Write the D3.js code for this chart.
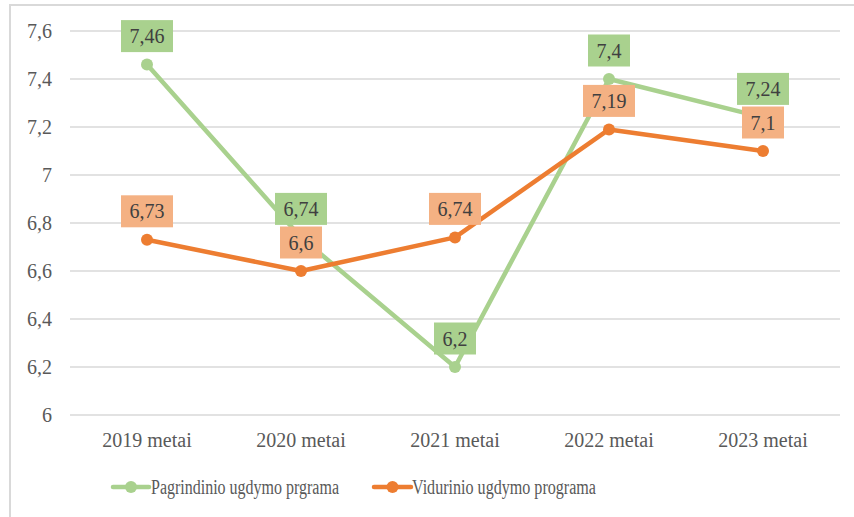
<!DOCTYPE html>
<html>
<head>
<meta charset="utf-8">
<script src="https://cdn.jsdelivr.net/npm/d3@7"></script>
<style>
  body { margin: 0; background: #fff; }
</style>
</head>
<body>
<svg id="chart" width="854" height="517" font-family="Liberation Serif"></svg>
<script>
// Data
var years = ["2019 metai", "2020 metai", "2021 metai", "2022 metai", "2023 metai"];
var pagrindinio = [7.46, 6.74, 6.2, 7.4, 7.24];
var vidurinio = [6.73, 6.6, 6.74, 7.19, 7.1];
var yTicks = [6, 6.2, 6.4, 6.6, 6.8, 7, 7.2, 7.4, 7.6];
var seriesNames = ["Pagrindinio ugdymo prgrama", "Vidurinio ugdymo programa"];

var svg = d3.select("#chart");
// outer chart border
svg.append("rect").attr("x", 10).attr("y", 5).attr("width", 900).attr("height", 600)
    .attr("fill", "none").attr("stroke", "#d9d9d9").attr("stroke-width", 2);

var x = d3.scalePoint().domain(years).range([147, 763]);
var y = d3.scaleLinear().domain([6, 7.6]).range([415, 31]);
var fmt = function(v) { return String(v).replace(".", ","); };

// gridlines
svg.append("g").selectAll("line").data(yTicks).enter().append("line")
    .attr("x1", 70).attr("x2", 840)
    .attr("y1", function(d) { return y(d); }).attr("y2", function(d) { return y(d); })
    .attr("stroke", "#d9d9d9").attr("stroke-width", 1.5);

// y axis labels
svg.append("g").selectAll("text").data(yTicks).enter().append("text")
    .attr("x", 52).attr("y", function(d) { return y(d); })
    .attr("dy", "0.35em").attr("text-anchor", "end")
    .attr("font-family", "Liberation Serif")
    .attr("font-size", 20).attr("fill", "#595959")
    .text(fmt);

// x axis labels
svg.append("g").selectAll("text").data(years).enter().append("text")
    .attr("x", function(d) { return x(d); }).attr("y", 447)
    .attr("text-anchor", "middle").attr("font-family", "Liberation Serif")
    .attr("font-size", 20).attr("fill", "#595959")
    .text(function(d) { return d; });

var series = [
    { values: pagrindinio, color: "#a9d18e", box: "#a9d18e" },
    { values: vidurinio, color: "#ed7d31", box: "#f4b183" }
];

var line = d3.line()
    .x(function(d, i) { return x(years[i]); })
    .y(function(d) { return y(d); });

series.forEach(function(s) {
    svg.append("path").datum(s.values).attr("d", line)
        .attr("fill", "none").attr("stroke", s.color).attr("stroke-width", 4.5)
        .attr("stroke-linejoin", "round");
    svg.append("g").selectAll("circle").data(s.values).enter().append("circle")
        .attr("cx", function(d, i) { return x(years[i]); })
        .attr("cy", function(d) { return y(d); })
        .attr("r", 6).attr("fill", s.color);
});

// data labels (boxes above the points)
series.forEach(function(s) {
    var g = svg.append("g");
    s.values.forEach(function(v, i) {
        var cx = x(years[i]), cy = y(v) - 28.5;
        var t = g.append("text").attr("x", cx).attr("y", cy).attr("dy", "0.35em")
            .attr("text-anchor", "middle").attr("font-family", "Liberation Serif")
            .attr("font-size", 20).attr("fill", "#404040")
            .text(fmt(v));
        var w = t.node().getComputedTextLength() + 17;
        g.insert("rect", "text").attr("x", cx - w / 2).attr("y", cy - 16)
            .attr("width", w).attr("height", 32).attr("fill", s.box);
    });
});

// legend
var legend = [
    { name: seriesNames[0], color: "#a9d18e", x1: 113, x2: 149, tx: 151, tl: 188 },
    { name: seriesNames[1], color: "#ed7d31", x1: 374, x2: 411, tx: 412, tl: 184 }
];
legend.forEach(function(l) {
    svg.append("line").attr("x1", l.x1).attr("x2", l.x2).attr("y1", 487).attr("y2", 487)
        .attr("stroke", l.color).attr("stroke-width", 4.5).attr("stroke-linecap", "round");
    svg.append("circle").attr("cx", (l.x1 + l.x2) / 2).attr("cy", 487).attr("r", 6).attr("fill", l.color);
    svg.append("text").attr("x", l.tx).attr("y", 487).attr("dy", "0.35em")
        .attr("font-family", "Liberation Serif")
        .attr("font-size", 20).attr("fill", "#595959")
        .attr("textLength", l.tl).attr("lengthAdjust", "spacingAndGlyphs")
        .text(l.name);
});
</script>
</body>
</html>
